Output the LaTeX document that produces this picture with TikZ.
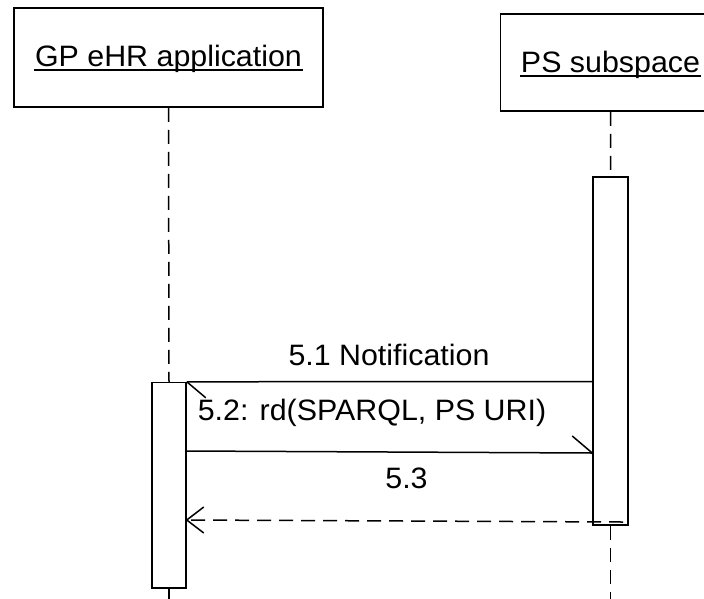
\documentclass[tikz,border=0pt]{standalone}
\usepackage{fontspec}
\setmainfont{Liberation Sans}[FakeStretch=1.03]
\usetikzlibrary{calc}
\begin{document}
\begin{tikzpicture}[x=1pt,y=-1pt,
  line width=1.5pt,
  lbl/.style={font=\fontsize{29.5}{33}\selectfont, inner sep=0pt, anchor=base},
  objbox/.style={draw, rectangle, inner sep=0pt},
  actbox/.style={draw, rectangle, fill=white, inner sep=0pt},
  life/.style={dash pattern=on 14pt off 8pt},
  retmsg/.style={dash pattern=on 14pt off 8pt},
  uline/.style={line width=1.4pt}]
\useasboundingbox (0,0) rectangle (704,598);
\clip (0,0) rectangle (704,598);
\fill[white] (0,0) rectangle (704,598);

% object boxes
\node[objbox, minimum width=309pt, minimum height=99pt] (gp) at (168.5,57.5) {};
\node[objbox, minimum width=220pt, minimum height=97pt] (ps) at (610.7,62.5) {};

% activation boxes
\node[actbox, minimum width=34pt, minimum height=205.5pt] (gpact) at (169,485.25) {};
\node[actbox, minimum width=35pt, minimum height=348pt] (psact) at (610.5,351) {};

% end points of lifelines
\coordinate (gpend) at (169,600);
\coordinate (psend) at (610.5,600);

% lifelines
\draw[life] (gp.south) -- (gpact.north);
\draw[life] (gpact.south) -- (gpend);
\draw[life] (ps.south) -- (psact.north);
\draw[life] (psact.south) -- (psend);

% titles
\node[lbl] (gptext) at (168.5,66) {GP eHR application};
\draw[uline] ([yshift=-4pt]gptext.base west) -- ([yshift=-4pt]gptext.base east);
\node[lbl] (pstext) at (610.5,72) {PS subspace};
\draw[uline] ([yshift=-4pt]pstext.base west) -- ([yshift=-4pt]pstext.base east);

% message 5.1
\coordinate (m1s) at (psact.west |- 0,381.7);
\coordinate (m1e) at (gpact.north east);
\draw (m1s) -- (m1e);
\draw (m1e) -- ++(19,16);
\node[lbl] (l1) at (389,365) {5.1 Notification};

% message 5.2
\coordinate (m2s) at (gpact.east |- 0,451);
\coordinate (m2e) at (psact.west |- 0,453);
\draw (m2s) -- (m2e);
\draw (m2e) -- ++(-20,-17);
\node[lbl] (l2) at (372,420) {5.2: rd(SPARQL, PS URI)};

% message 5.3
\coordinate (m3s) at (623,522);
\coordinate (m3e) at (gpact.east |- 0,520);
\draw[retmsg] (m3s) -- (m3e);
\draw (m3e) ++(17,-13) -- (m3e) -- ++(17,13);
\node[lbl] (l3) at (406.5,488) {5.3};
\end{tikzpicture}
\end{document}
